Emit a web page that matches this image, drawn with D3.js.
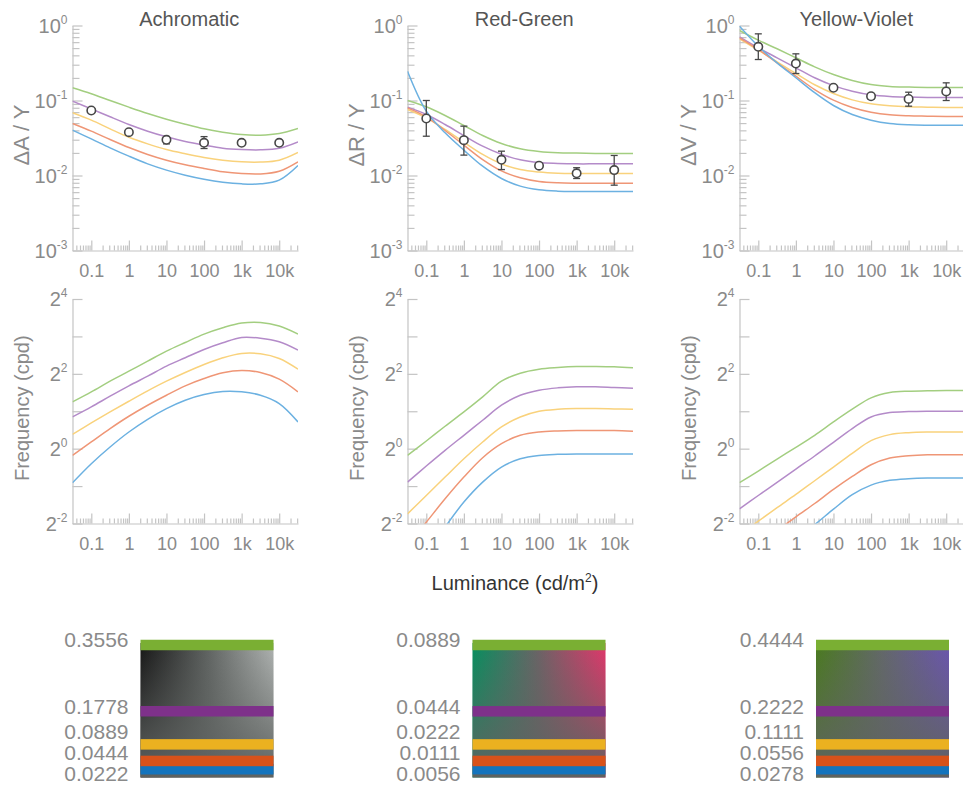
<!DOCTYPE html>
<html>
<head>
<meta charset="utf-8">
<script src="https://cdn.jsdelivr.net/npm/d3@7"></script>
<style>
body { margin: 0; background: #fff; }
svg { font-family: "Liberation Sans", Arial, sans-serif; }
</style>
</head>
<body>
<svg id="chart" width="963" height="787"></svg>
<script>
// luminance grid (cd/m2) the model curves were read at
const lumGrid = [0.0316, 0.1, 0.316, 1, 3.16, 10, 31.6, 100, 316, 1000, 3162, 10000, 31623];

// x tick labels
const xTickVals = [0.1, 1, 10, 100, 1000, 10000];
const xTickLabels = ["0.1", "1", "10", "100", "1k", "10k"];
// y tick labels (exponents)
const thrTickVals = [1, 0.1, 0.01, 0.001];
const thrTickExp = ["0", "-1", "-2", "-3"];
const freqTickVals = [16, 4, 1, 0.25];
const freqTickExp = ["4", "2", "0", "-2"];

// threshold curves, rows: green, purple, yellow, orange, blue
const thrAchromatic = [
  [0.148, 0.123, 0.100, 0.0815, 0.0671, 0.0564, 0.0483, 0.0419, 0.0378, 0.0352, 0.0345, 0.0363, 0.0423],
  [0.0980, 0.0774, 0.0606, 0.0479, 0.0390, 0.0328, 0.0284, 0.0254, 0.0231, 0.0222, 0.0220, 0.0231, 0.0281],
  [0.0685, 0.0547, 0.0419, 0.0324, 0.0264, 0.0222, 0.0195, 0.0174, 0.0160, 0.0152, 0.0151, 0.0160, 0.0203],
  [0.0493, 0.0390, 0.0302, 0.0236, 0.0191, 0.0160, 0.0139, 0.0124, 0.0112, 0.0106, 0.0105, 0.0114, 0.0152],
  [0.0402, 0.0308, 0.0234, 0.0181, 0.0143, 0.0118, 0.0101, 0.00893, 0.00815, 0.00774, 0.00774, 0.00867, 0.0136]
];
const thrRedGreen = [
  [0.100, 0.0824, 0.0631, 0.0464, 0.0341, 0.0267, 0.0227, 0.0209, 0.0201, 0.0199, 0.0197, 0.0197, 0.0197],
  [0.0815, 0.0650, 0.0479, 0.0341, 0.0246, 0.0192, 0.0162, 0.0149, 0.0145, 0.0143, 0.0143, 0.0143, 0.0143],
  [0.0759, 0.0587, 0.0411, 0.0278, 0.0191, 0.0143, 0.0120, 0.0111, 0.0107, 0.0106, 0.0106, 0.0106, 0.0106],
  [0.0798, 0.0606, 0.0398, 0.0254, 0.0163, 0.0115, 0.00931, 0.00832, 0.00798, 0.00790, 0.00790, 0.00790, 0.00790],
  [0.246, 0.0721, 0.0371, 0.0218, 0.0133, 0.00912, 0.00721, 0.00644, 0.00618, 0.00612, 0.00612, 0.00612, 0.00612]
];
const thrYellowViolet = [
  [0.858, 0.637, 0.489, 0.371, 0.281, 0.222, 0.185, 0.163, 0.154, 0.151, 0.149, 0.149, 0.149],
  [0.706, 0.504, 0.371, 0.273, 0.201, 0.158, 0.133, 0.119, 0.113, 0.111, 0.110, 0.110, 0.110],
  [0.664, 0.469, 0.328, 0.229, 0.162, 0.124, 0.102, 0.0903, 0.0849, 0.0824, 0.0815, 0.0807, 0.0807],
  [0.685, 0.479, 0.318, 0.211, 0.140, 0.101, 0.0807, 0.0699, 0.0644, 0.0625, 0.0618, 0.0612, 0.0612],
  [0.980, 0.530, 0.318, 0.201, 0.127, 0.0858, 0.0650, 0.0547, 0.0493, 0.0474, 0.0469, 0.0469, 0.0469]
];

// peak frequency curves (cpd), same row order
const freqAchromatic = [
  [2.378, 2.864, 3.491, 4.202, 5.059, 6.093, 7.155, 8.354, 9.396, 10.25, 10.37, 9.69, 8.354],
  [1.800, 2.167, 2.643, 3.202, 3.830, 4.611, 5.385, 6.284, 7.111, 7.850, 7.750, 7.245, 6.207],
  [1.305, 1.610, 1.975, 2.408, 2.918, 3.491, 4.101, 4.757, 5.385, 5.836, 5.800, 5.318, 4.362],
  [0.883, 1.132, 1.450, 1.823, 2.236, 2.692, 3.202, 3.668, 4.076, 4.255, 4.101, 3.623, 2.864],
  [0.532, 0.757, 1.032, 1.362, 1.724, 2.101, 2.454, 2.725, 2.882, 2.864, 2.692, 2.306, 1.640]
];
const freqRedGreen = [
  [0.883, 1.153, 1.514, 1.975, 2.610, 3.491, 4.050, 4.362, 4.499, 4.582, 4.582, 4.555, 4.472],
  [0.538, 0.725, 0.969, 1.281, 1.692, 2.236, 2.692, 2.954, 3.084, 3.143, 3.143, 3.103, 3.066],
  [0.299, 0.420, 0.591, 0.830, 1.132, 1.495, 1.800, 2.000, 2.076, 2.101, 2.101, 2.089, 2.076],
  [0.166, 0.256, 0.395, 0.591, 0.846, 1.097, 1.281, 1.362, 1.388, 1.397, 1.397, 1.397, 1.379],
  [0.0866, 0.142, 0.234, 0.372, 0.538, 0.711, 0.830, 0.883, 0.900, 0.906, 0.906, 0.906, 0.906]
];
const freqYellowViolet = [
  [0.532, 0.661, 0.825, 1.025, 1.281, 1.640, 2.076, 2.562, 2.828, 2.900, 2.918, 2.936, 2.936],
  [0.328, 0.420, 0.535, 0.685, 0.873, 1.125, 1.450, 1.800, 1.951, 1.988, 2.000, 2.000, 2.000],
  [0.202, 0.261, 0.335, 0.428, 0.552, 0.711, 0.917, 1.160, 1.297, 1.346, 1.362, 1.362, 1.362],
  [0.134, 0.171, 0.219, 0.283, 0.362, 0.470, 0.598, 0.743, 0.841, 0.878, 0.894, 0.894, 0.894],
  [0.0872, 0.113, 0.147, 0.191, 0.245, 0.326, 0.426, 0.509, 0.556, 0.573, 0.580, 0.580, 0.580]
];

// measured thresholds with error range
const measLum = [0.1, 1, 10, 100, 1000, 10000];
const measAchromatic = [0.0736, 0.0378, 0.0299, 0.0273, 0.0273, 0.0273];
const loAchromatic = [0.0700, 0.0360, 0.0264, 0.0229, 0.0262, 0.0262];
const hiAchromatic = [0.0770, 0.0395, 0.0331, 0.0330, 0.0285, 0.0285];
const measRedGreen = [0.0575, 0.0296, 0.0162, 0.0135, 0.0107, 0.0118];
const loRedGreen = [0.0334, 0.0187, 0.0120, 0.0128, 0.00912, 0.00743];
const hiRedGreen = [0.100, 0.0455, 0.0211, 0.0142, 0.0127, 0.0185];
const measYellowViolet = [0.520, 0.311, 0.148, 0.114, 0.105, 0.132];
const loYellowViolet = [0.352, 0.229, 0.140, 0.105, 0.0840, 0.100];
const hiYellowViolet = [0.774, 0.419, 0.156, 0.124, 0.129, 0.172];

// stimulus contrasts shown in the swatches
const contrastAchromatic = [0.3556, 0.1778, 0.0889, 0.0444, 0.0222];
const contrastRedGreen = [0.0889, 0.0444, 0.0222, 0.0111, 0.0056];
const contrastYellowViolet = [0.4444, 0.2222, 0.1111, 0.0556, 0.0278];

const lineColors = ["#a3ce80", "#b48bc9", "#f9d27c", "#ef9676", "#6cb1e1"];
const barColors = ["#7aaf33", "#7e318a", "#ebb120", "#d8521a", "#1474bd"];

const channels = [
  { title: "Achromatic", yLabel: "ΔA / Y", thr: thrAchromatic, freq: freqAchromatic,
    meas: measAchromatic, lo: loAchromatic, hi: hiAchromatic, contrast: contrastAchromatic,
    grad: ["#161616", "#5f6361", "#b0b4b2"] },
  { title: "Red-Green", yLabel: "ΔR / Y", thr: thrRedGreen, freq: freqRedGreen,
    meas: measRedGreen, lo: loRedGreen, hi: hiRedGreen, contrast: contrastRedGreen,
    grad: ["#05905f", "#6c6366", "#e4366b"] },
  { title: "Yellow-Violet", yLabel: "ΔV / Y", thr: thrYellowViolet, freq: freqYellowViolet,
    meas: measYellowViolet, lo: loYellowViolet, hi: hiYellowViolet, contrast: contrastYellowViolet,
    grad: ["#4a7b1e", "#63686a", "#6b55b0"] }
];

const panelX = [[72.5, 298], [407.5, 633], [739.5, 965]];
const swatchX = [[140.5, 273.5], [472.5, 605.5], [816, 949]];
const topY = [250.5, 25.5];
const botY = [523.5, 299];
const axisCol = "#c4c4c4", tickTextCol = "#8a8a8a";

const svg = d3.select("#chart");
const defs = svg.append("defs");

function styleAxis(g) {
  g.attr("color", axisCol).attr("font-family", null).attr("font-size", null);
  g.selectAll("path, line").attr("stroke-width", 1.2);
  g.selectAll("text").attr("fill", tickTextCol).attr("font-size", 18);
}

function drawXAxis(g, x, y0) {
  const minors = x.ticks().filter(v => !xTickVals.some(m => Math.abs(m - v) / m < 1e-6));
  g.append("g").attr("transform", `translate(0,${y0})`)
    .call(d3.axisBottom(x).tickValues(minors).tickSize(-5).tickSizeOuter(0).tickFormat(""))
    .call(s => s.select(".domain").remove())
    .call(styleAxis);
  g.append("g").attr("transform", `translate(0,${y0})`)
    .call(d3.axisBottom(x).tickValues(xTickVals).tickSize(-10).tickSizeOuter(0)
      .tickPadding(14).tickFormat((d, k) => xTickLabels[k]))
    .call(styleAxis);
}

function drawYLabels(g, y, x0, vals, base, exps) {
  vals.forEach((v, k) => {
    const t = g.append("text").attr("x", x0 - 5).attr("y", y(v) + 7)
      .attr("text-anchor", "end").attr("fill", tickTextCol);
    t.append("tspan").attr("font-size", 20).text(base);
    t.append("tspan").attr("font-size", 12).attr("dy", -9).text(exps[k]);
  });
}

function drawCurves(g, x, y, rows, clipId) {
  const line = d3.line()
    .x(d => x(d[0])).y(d => y(d[1]))
    .curve(d3.curveCatmullRom.alpha(0.5));
  g.append("g").attr("clip-path", `url(#${clipId})`)
    .selectAll("path").data(rows).join("path")
    .attr("fill", "none")
    .attr("stroke", (d, k) => lineColors[k])
    .attr("stroke-width", 1.5)
    .attr("d", r => line(r.map((v, k) => [lumGrid[k], v])));
}

channels.forEach((ch, i) => {
  const [x0, x1] = panelX[i];
  const x = d3.scaleLog().domain([lumGrid[0], lumGrid[lumGrid.length - 1]]).range([x0, x1]);
  const yT = d3.scaleLog().domain([0.001, 1]).range(topY);
  const yB = d3.scaleLog().base(2).domain([0.25, 16]).range(botY);

  // clip paths
  defs.append("clipPath").attr("id", "ct" + i).append("rect")
    .attr("x", x0).attr("y", topY[1]).attr("width", x1 - x0).attr("height", topY[0] - topY[1]);
  defs.append("clipPath").attr("id", "cb" + i).append("rect")
    .attr("x", x0).attr("y", botY[1]).attr("width", x1 - x0).attr("height", botY[0] - botY[1]);

  const g = svg.append("g");

  // title
  g.append("text").attr("x", (x0 + x1) / 2 + 4).attr("y", 26)
    .attr("text-anchor", "middle").attr("font-size", 20).attr("fill", "#555")
    .text(ch.title);

  // ---- top: thresholds ----
  const yMinor = yT.ticks().filter(v => !thrTickVals.some(m => Math.abs(m - v) / m < 1e-6));
  g.append("g").attr("transform", `translate(${x0},0)`)
    .call(d3.axisLeft(yT).tickValues(yMinor).tickSize(-7).tickFormat(""))
    .call(s => s.select(".domain").remove())
    .call(styleAxis);
  g.append("g").attr("transform", `translate(${x0},0)`)
    .call(d3.axisLeft(yT).tickValues(thrTickVals).tickSize(-10).tickSizeOuter(0).tickFormat(""))
    .call(styleAxis);
  drawYLabels(g, yT, x0, thrTickVals, "10", thrTickExp);
  drawXAxis(g, x, topY[0]);

  g.append("text")
    .attr("transform", `translate(${x0 - 44},${(topY[0] + topY[1]) / 2 - 3}) rotate(-90)`)
    .attr("text-anchor", "middle").attr("font-size", 22).attr("fill", "#8a8a8a")
    .text(ch.yLabel);

  drawCurves(g, x, yT, ch.thr, "ct" + i);

  // measurements
  const pts = ch.meas.map((v, k) => ({ l: measLum[k], v, lo: ch.lo[k], hi: ch.hi[k] }));
  const eb = g.append("g").attr("stroke", "#474747").attr("stroke-width", 1.3);
  pts.forEach(p => {
    const px = x(p.l);
    eb.append("line").attr("x1", px).attr("x2", px).attr("y1", yT(p.hi)).attr("y2", yT(p.lo));
    eb.append("line").attr("x1", px - 3.5).attr("x2", px + 3.5).attr("y1", yT(p.hi)).attr("y2", yT(p.hi));
    eb.append("line").attr("x1", px - 3.5).attr("x2", px + 3.5).attr("y1", yT(p.lo)).attr("y2", yT(p.lo));
  });
  g.append("g").selectAll("circle").data(pts).join("circle")
    .attr("cx", p => x(p.l)).attr("cy", p => yT(p.v)).attr("r", 4.2)
    .attr("fill", "#fff").attr("stroke", "#474747").attr("stroke-width", 1.6);

  // ---- bottom: frequency ----
  g.append("g").attr("transform", `translate(${x0},0)`)
    .call(d3.axisLeft(yB).tickValues(yB.ticks()).tickSize(-10).tickSizeOuter(0).tickFormat(""))
    .call(styleAxis);
  drawYLabels(g, yB, x0, freqTickVals, "2", freqTickExp);
  drawXAxis(g, x, botY[0]);

  g.append("text")
    .attr("transform", `translate(${x0 - 44},${(botY[0] + botY[1]) / 2 - 3}) rotate(-90)`)
    .attr("text-anchor", "middle").attr("font-size", 20).attr("fill", "#8a8a8a")
    .text("Frequency (cpd)");

  drawCurves(g, x, yB, ch.freq, "cb" + i);

  // ---- swatch ----
  const [bx0, bx1] = swatchX[i];
  const yc = d3.scaleLinear().domain([0, ch.contrast[0]]).range([777.5, 645]);
  const boxTop = yc(ch.contrast[0]) - 2;
  const hg = defs.append("linearGradient").attr("id", "hg" + i)
    .attr("x1", 0).attr("x2", 1).attr("y1", 0).attr("y2", 0);
  ch.grad.forEach((c, k) => hg.append("stop").attr("offset", k / 2).attr("stop-color", c));
  const vg = defs.append("linearGradient").attr("id", "vg" + i)
    .attr("x1", 0).attr("x2", 0).attr("y1", 0).attr("y2", 1);
  vg.append("stop").attr("offset", 0).attr("stop-color", "#5f6361").attr("stop-opacity", 0);
  vg.append("stop").attr("offset", 1).attr("stop-color", "#5f6361").attr("stop-opacity", 1);

  const sw = svg.append("g");
  sw.append("rect").attr("x", bx0).attr("y", boxTop).attr("width", bx1 - bx0)
    .attr("height", yc(0) - boxTop).attr("fill", `url(#hg${i})`);
  sw.append("rect").attr("x", bx0).attr("y", boxTop).attr("width", bx1 - bx0)
    .attr("height", yc(0) - boxTop).attr("fill", `url(#vg${i})`);

  const barH = 10.5;
  const bars = ch.contrast.map((c, k) => ({ c, k })).reverse();
  sw.selectAll("rect.bar").data(bars).join("rect").attr("class", "bar")
    .attr("x", bx0).attr("width", bx1 - bx0)
    .attr("y", d => yc(d.c) - barH / 2).attr("height", barH)
    .attr("fill", d => barColors[d.k]);

  // labels at bar tops, pushed apart when crowded
  const ly = ch.contrast.map(c => yc(c) - barH / 2);
  for (let it = 0; it < 60; it++) {
    for (let k = 0; k < ly.length - 1; k++) {
      const d = ly[k + 1] - ly[k];
      if (d < 21) { const s = (21 - d) / 2; ly[k] -= s; ly[k + 1] += s; }
    }
  }
  const fmt = d3.format(".4f");
  sw.selectAll("text").data(ch.contrast).join("text")
    .attr("x", bx0 - 12).attr("y", (c, k) => ly[k] + 7.5)
    .attr("text-anchor", "end").attr("font-size", 21).attr("fill", "#8a8a8a")
    .text(c => fmt(c));
});

// shared x label
const lum = svg.append("text").attr("x", 515).attr("y", 590)
  .attr("text-anchor", "middle").attr("font-size", 20).attr("fill", "#333");
lum.append("tspan").text("Luminance (cd/m");
lum.append("tspan").attr("font-size", 12).attr("dy", -8).text("2");
lum.append("tspan").attr("dy", 8).text(")");
</script>
</body>
</html>
